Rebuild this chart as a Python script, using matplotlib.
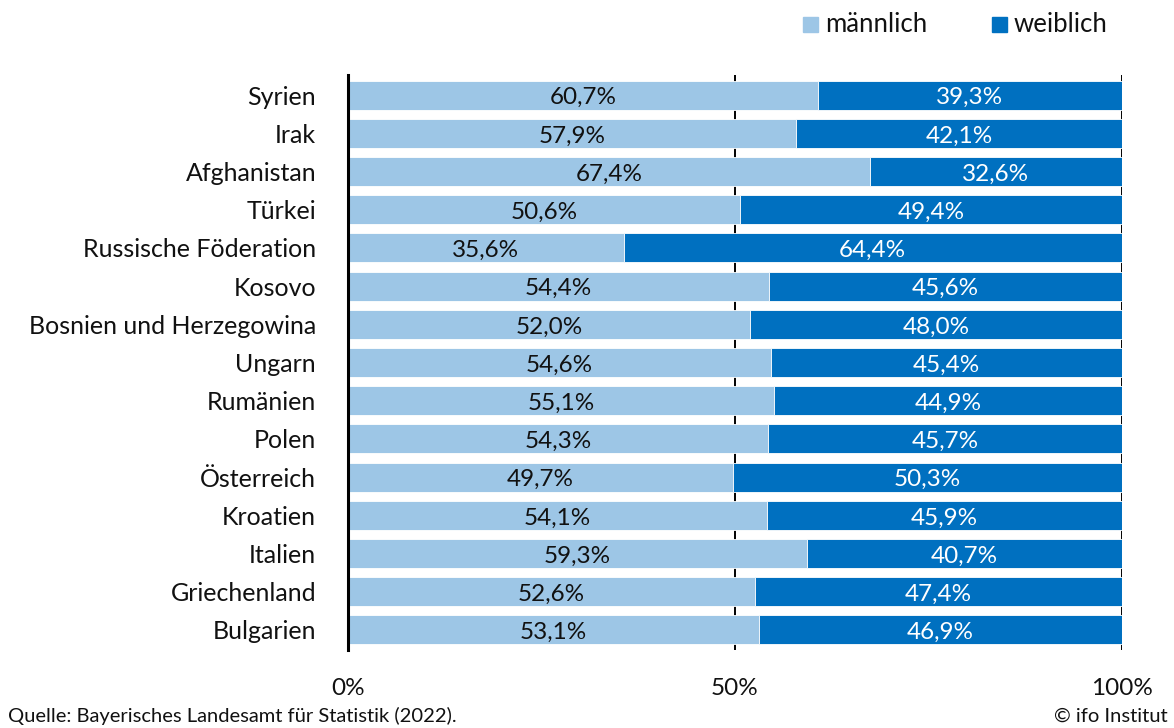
import matplotlib
matplotlib.use("Agg")
import matplotlib.pyplot as plt
from matplotlib.patches import Rectangle

plt.rcParams['font.family'] = ['Lato', 'DejaVu Sans']

countries = ["Syrien", "Irak", "Afghanistan", "Türkei", "Russische Föderation",
             "Kosovo", "Bosnien und Herzegowina", "Ungarn", "Rumänien", "Polen",
             "Österreich", "Kroatien", "Italien", "Griechenland", "Bulgarien"]
male = [60.7, 57.9, 67.4, 50.6, 35.6, 54.4, 52.0, 54.6, 55.1, 54.3,
        49.7, 54.1, 59.3, 52.6, 53.1]
female = [39.3, 42.1, 32.6, 49.4, 64.4, 45.6, 48.0, 45.4, 44.9, 45.7,
          50.3, 45.9, 40.7, 47.4, 46.9]
series_names = ["männlich", "weiblich"]
x_ticks = [0, 50, 100]
x_tick_labels = ["0%", "50%", "100%"]

c_male = "#9DC6E6"
c_female = "#0070C0"
txt = "#111111"

fig = plt.figure(figsize=(11.74, 7.28), dpi=100)
ax = fig.add_axes([348/1174, 1 - 650/728, (1122 - 348)/1174, (650 - 75)/728])

y = list(range(len(countries)))
bh = 0.76
ax.barh(y, male, height=bh, color=c_male, edgecolor="white", linewidth=0.6, zorder=2)
ax.barh(y, female, left=male, height=bh, color=c_female, edgecolor="white", linewidth=0.6, zorder=2)

def fmt(v):
    return f"{v:.1f}%".replace(".", ",")

for i, (m, f) in enumerate(zip(male, female)):
    ax.text(m / 2, i + 0.07, fmt(m), ha="center", va="center", fontsize=17.5, color=txt, zorder=4)
    ax.text(m + f / 2, i + 0.07, fmt(f), ha="center", va="center", fontsize=17.5, color="white", zorder=4)

# vertical reference lines at 50% and 100%
for xv in (50, 100):
    ax.axvline(xv, color="black", linewidth=1.4, zorder=1)

ax.set_xlim(0, 100)
ax.set_ylim(len(countries) - 0.475, -0.525)

ax.set_yticks(y)
ax.set_yticklabels(countries, fontsize=18, color=txt)
ax.set_xticks(x_ticks)
ax.set_xticklabels(x_tick_labels, fontsize=17.5, color=txt)
ax.tick_params(axis="y", length=0, pad=23)
ax.tick_params(axis="x", length=0, pad=20)

for s in ("top", "right", "bottom"):
    ax.spines[s].set_visible(False)
ax.spines["left"].set_linewidth(2.2)
ax.spines["left"].set_color("black")
ax.spines["left"].set_zorder(5)

# legend drawn in figure coordinates
W, H = 1174, 728
for (x0, name, col) in [(803, series_names[0], c_male), (992, series_names[1], c_female)]:
    fig.patches.append(Rectangle((x0 / W, 1 - 32 / H), 15 / W, 15 / H,
                                 transform=fig.transFigure, color=col))
    fig.text((x0 + 22) / W, 1 - 24 / H, name, ha="left", va="center",
             fontsize=18.5, color=txt)

fig.text(8 / W, 1 - 716 / H, "Quelle: Bayerisches Landesamt für Statistik (2022).",
         ha="left", va="center", fontsize=14.5, color=txt)
fig.text(1168 / W, 1 - 716 / H, "© ifo Institut",
         ha="right", va="center", fontsize=14.5, color=txt)

fig.savefig("out.png", dpi=100)
